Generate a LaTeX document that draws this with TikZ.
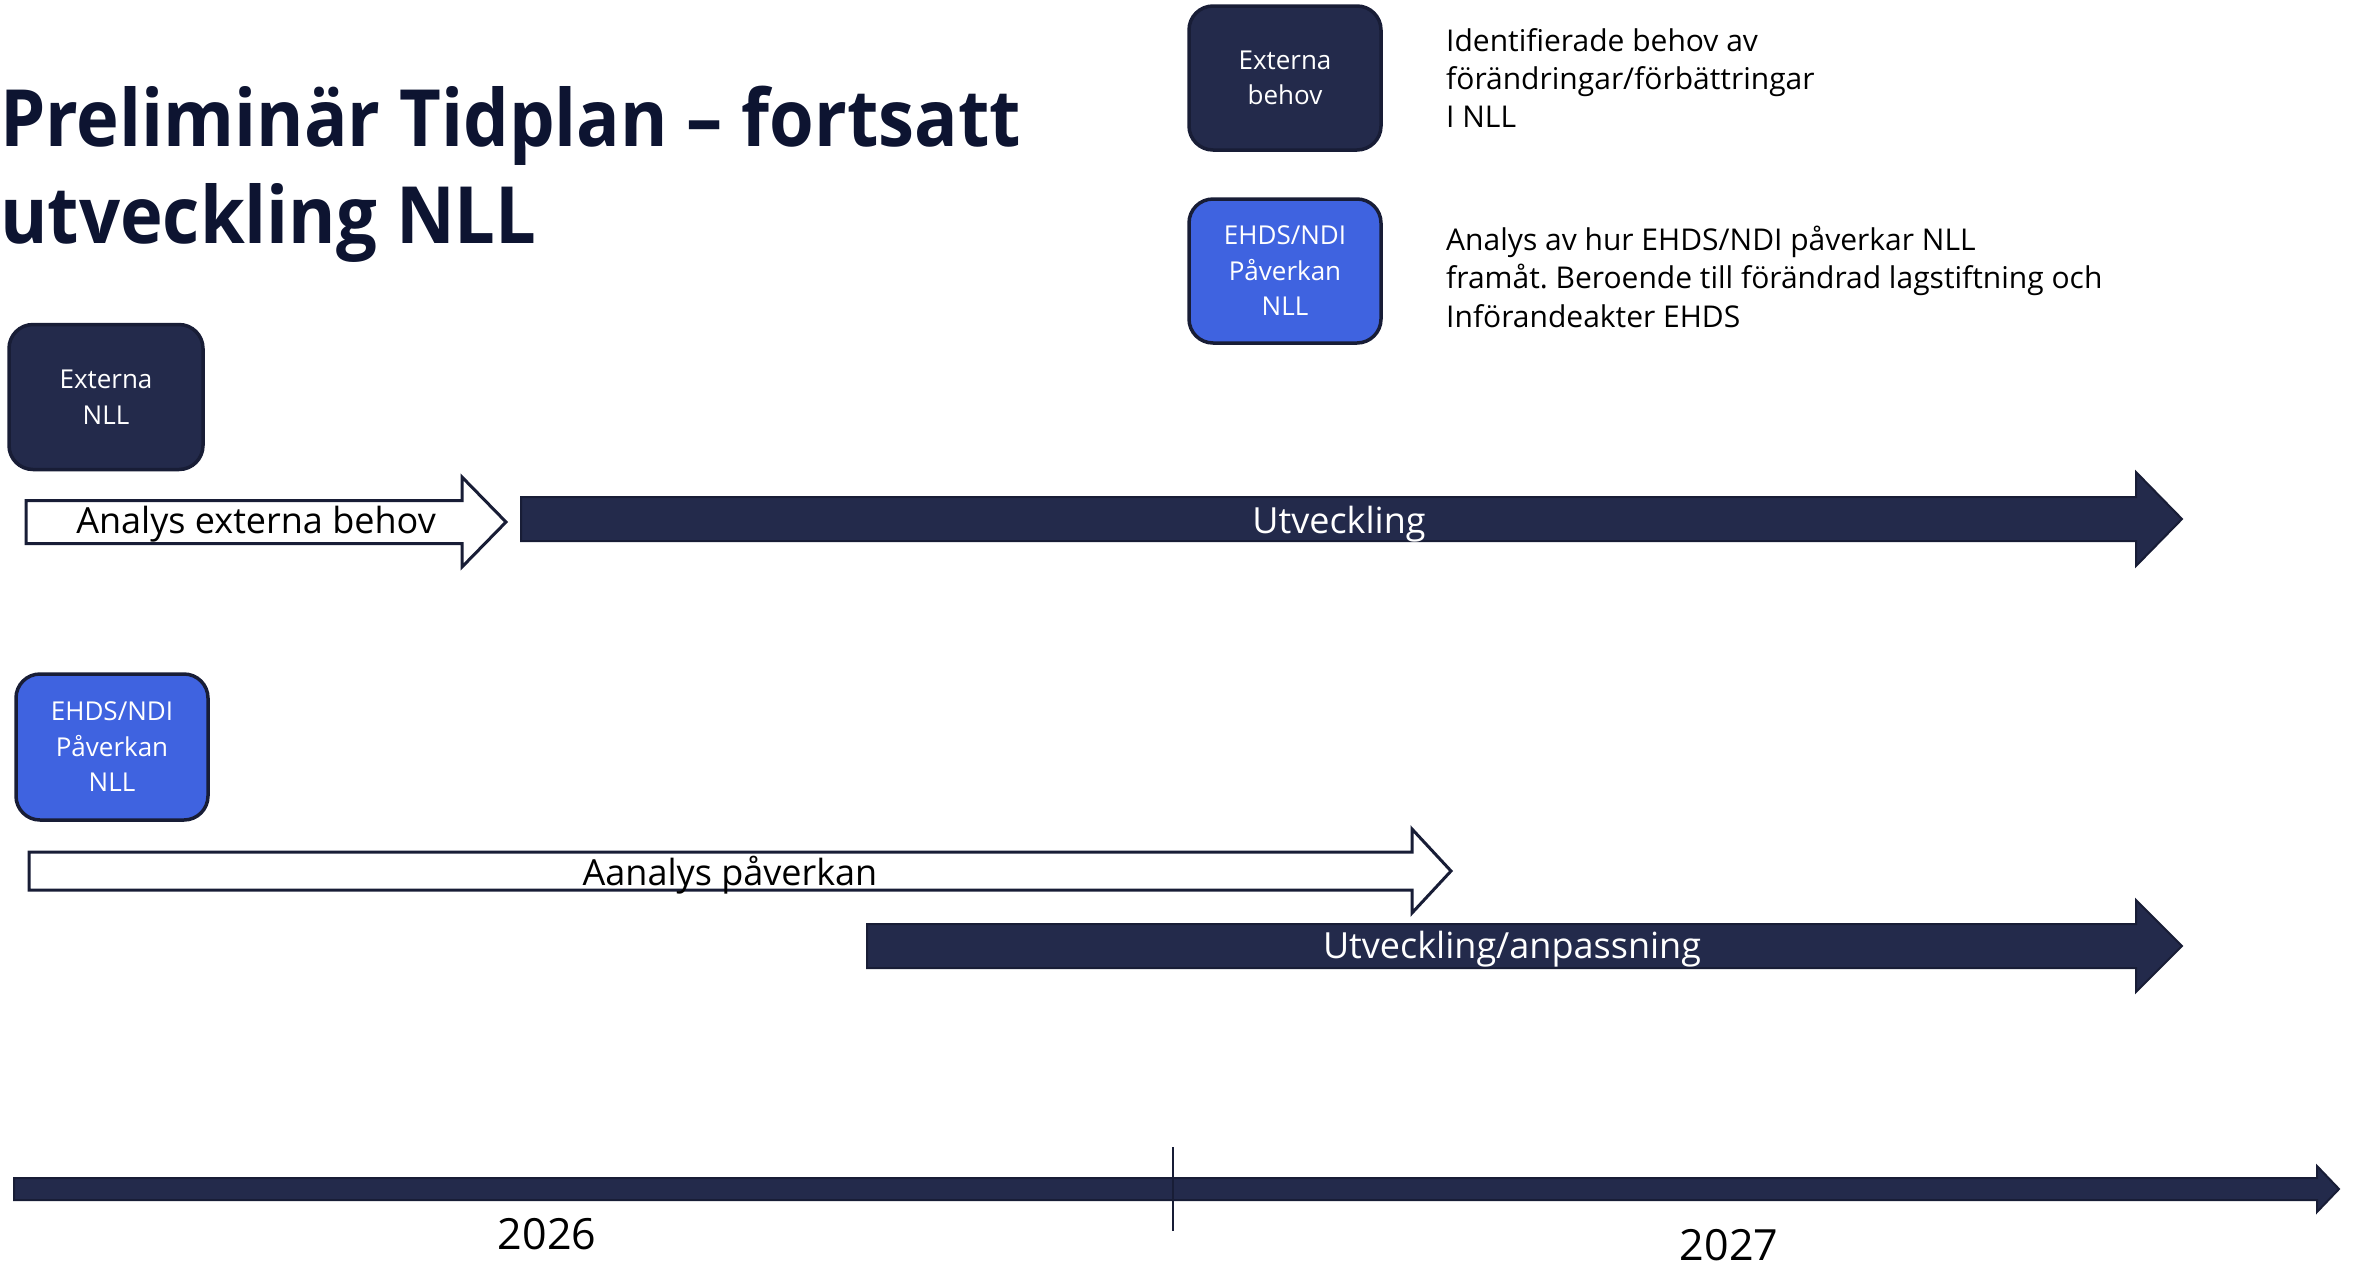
\documentclass[tikz,border=0pt]{standalone}
\usepackage{fontspec}
\setmainfont{Open Sans}
\newfontfamily\titlefont[FakeStretch=0.915]{Open Sans}
\frenchspacing
\definecolor{navy}{HTML}{232A4B}
\definecolor{navyline}{HTML}{181D36}
\definecolor{royal}{HTML}{3F63E0}
\definecolor{titlecol}{HTML}{0D1431}
\newcommand\blockarrow[7]{%
  \path[#1] (#2,{#5-#6}) -- (#3,{#5-#6}) -- (#3,{#5-#7}) -- (#4,#5)
     -- (#3,{#5+#7}) -- (#3,{#5+#6}) -- (#2,{#5+#6}) -- cycle;}
\begin{document}
\begin{tikzpicture}[x=1pt,y=-1pt,
  box/.style={rounded corners=24pt, draw=navyline, line width=3.5pt,
    minimum width=192pt, minimum height=144pt, inner sep=0pt, text=white,
    align=center, font=\fontsize{26}{35.5}\selectfont},
  darkbox/.style={box, fill=navy},
  bluebox/.style={box, fill=royal},
  darkarrow/.style={fill=navy, draw=navyline, line width=2pt},
  lightarrow/.style={fill=white, draw=navyline, line width=3pt},
  titletext/.style={anchor=base west, inner sep=0pt, text=titlecol,
    font=\titlefont\fontsize{79}{97}\selectfont\bfseries},
  desc/.style={anchor=base west, inner sep=0pt, text=black,
    font=\fontsize{30}{38}\selectfont},
  arrowlabel/.style={inner sep=0pt, font=\fontsize{36}{40}\selectfont},
  yearlabel/.style={inner sep=0pt, text=black, font=\fontsize{43}{50}\selectfont}
]
\useasboundingbox (0,0) rectangle (2359,1262);

% title
\node[titletext] (t1) at (0,146) {Preliminär Tidplan – fortsatt};
\node[titletext] (t2) at (0,243) {utveckling NLL};

% legend
\node[darkbox] (legA) at (1285,78) {Externa\\behov};
\node[bluebox] (legB) at (1285,271) {EHDS/NDI\\Påverkan\\NLL};
\node[desc] (dA1) at (1446,51) {Identifierade behov av};
\node[desc] (dA2) at (1446,89) {förändringar/förbättringar};
\node[desc] (dA3) at (1446,127) {I NLL};
\node[desc] (dB1) at (1446,250) {Analys av hur EHDS/NDI påverkar NLL};
\node[desc] (dB2) at (1446,288) {framåt. Beroende till förändrad lagstiftning och};
\node[desc] (dB3) at (1446,327) {Införandeakter EHDS};

% row 1
\node[darkbox, minimum width=194pt, minimum height=145pt] (ext) at (106,397) {Externa\\NLL};
\blockarrow{lightarrow}{26}{462}{506}{522}{21.5}{45}
\node[arrowlabel, text=black] (a1) at (256,524) {Analys externa behov};
\blockarrow{darkarrow}{521}{2136}{2182}{519}{22}{47}
\node[arrowlabel, text=white] (a2) at (1339,524) {Utveckling};

% row 2
\node[bluebox, minimum height=146pt] (ehds) at (112,747) {EHDS/NDI\\Påverkan\\NLL};
\blockarrow{lightarrow}{29}{1412}{1451}{871}{19}{42}
\node[arrowlabel, text=black] (a3) at (730,875) {Aanalys påverkan};
\blockarrow{darkarrow}{867}{2136}{2182}{946}{22}{46}
\node[arrowlabel, text=white] (a4) at (1512,949) {Utveckling/anpassning};

% timeline
\blockarrow{darkarrow}{14}{2317}{2339}{1189}{11}{23}
\coordinate (tickTop) at (1173,1147);
\coordinate (tickBot) at (1173,1231);
\draw[navyline, line width=2.5pt] (tickTop) -- (tickBot);
\node[yearlabel] (y26) at (547,1234) {2026};
\node[yearlabel] (y27) at (1729,1245) {2027};
\end{tikzpicture}
\end{document}
